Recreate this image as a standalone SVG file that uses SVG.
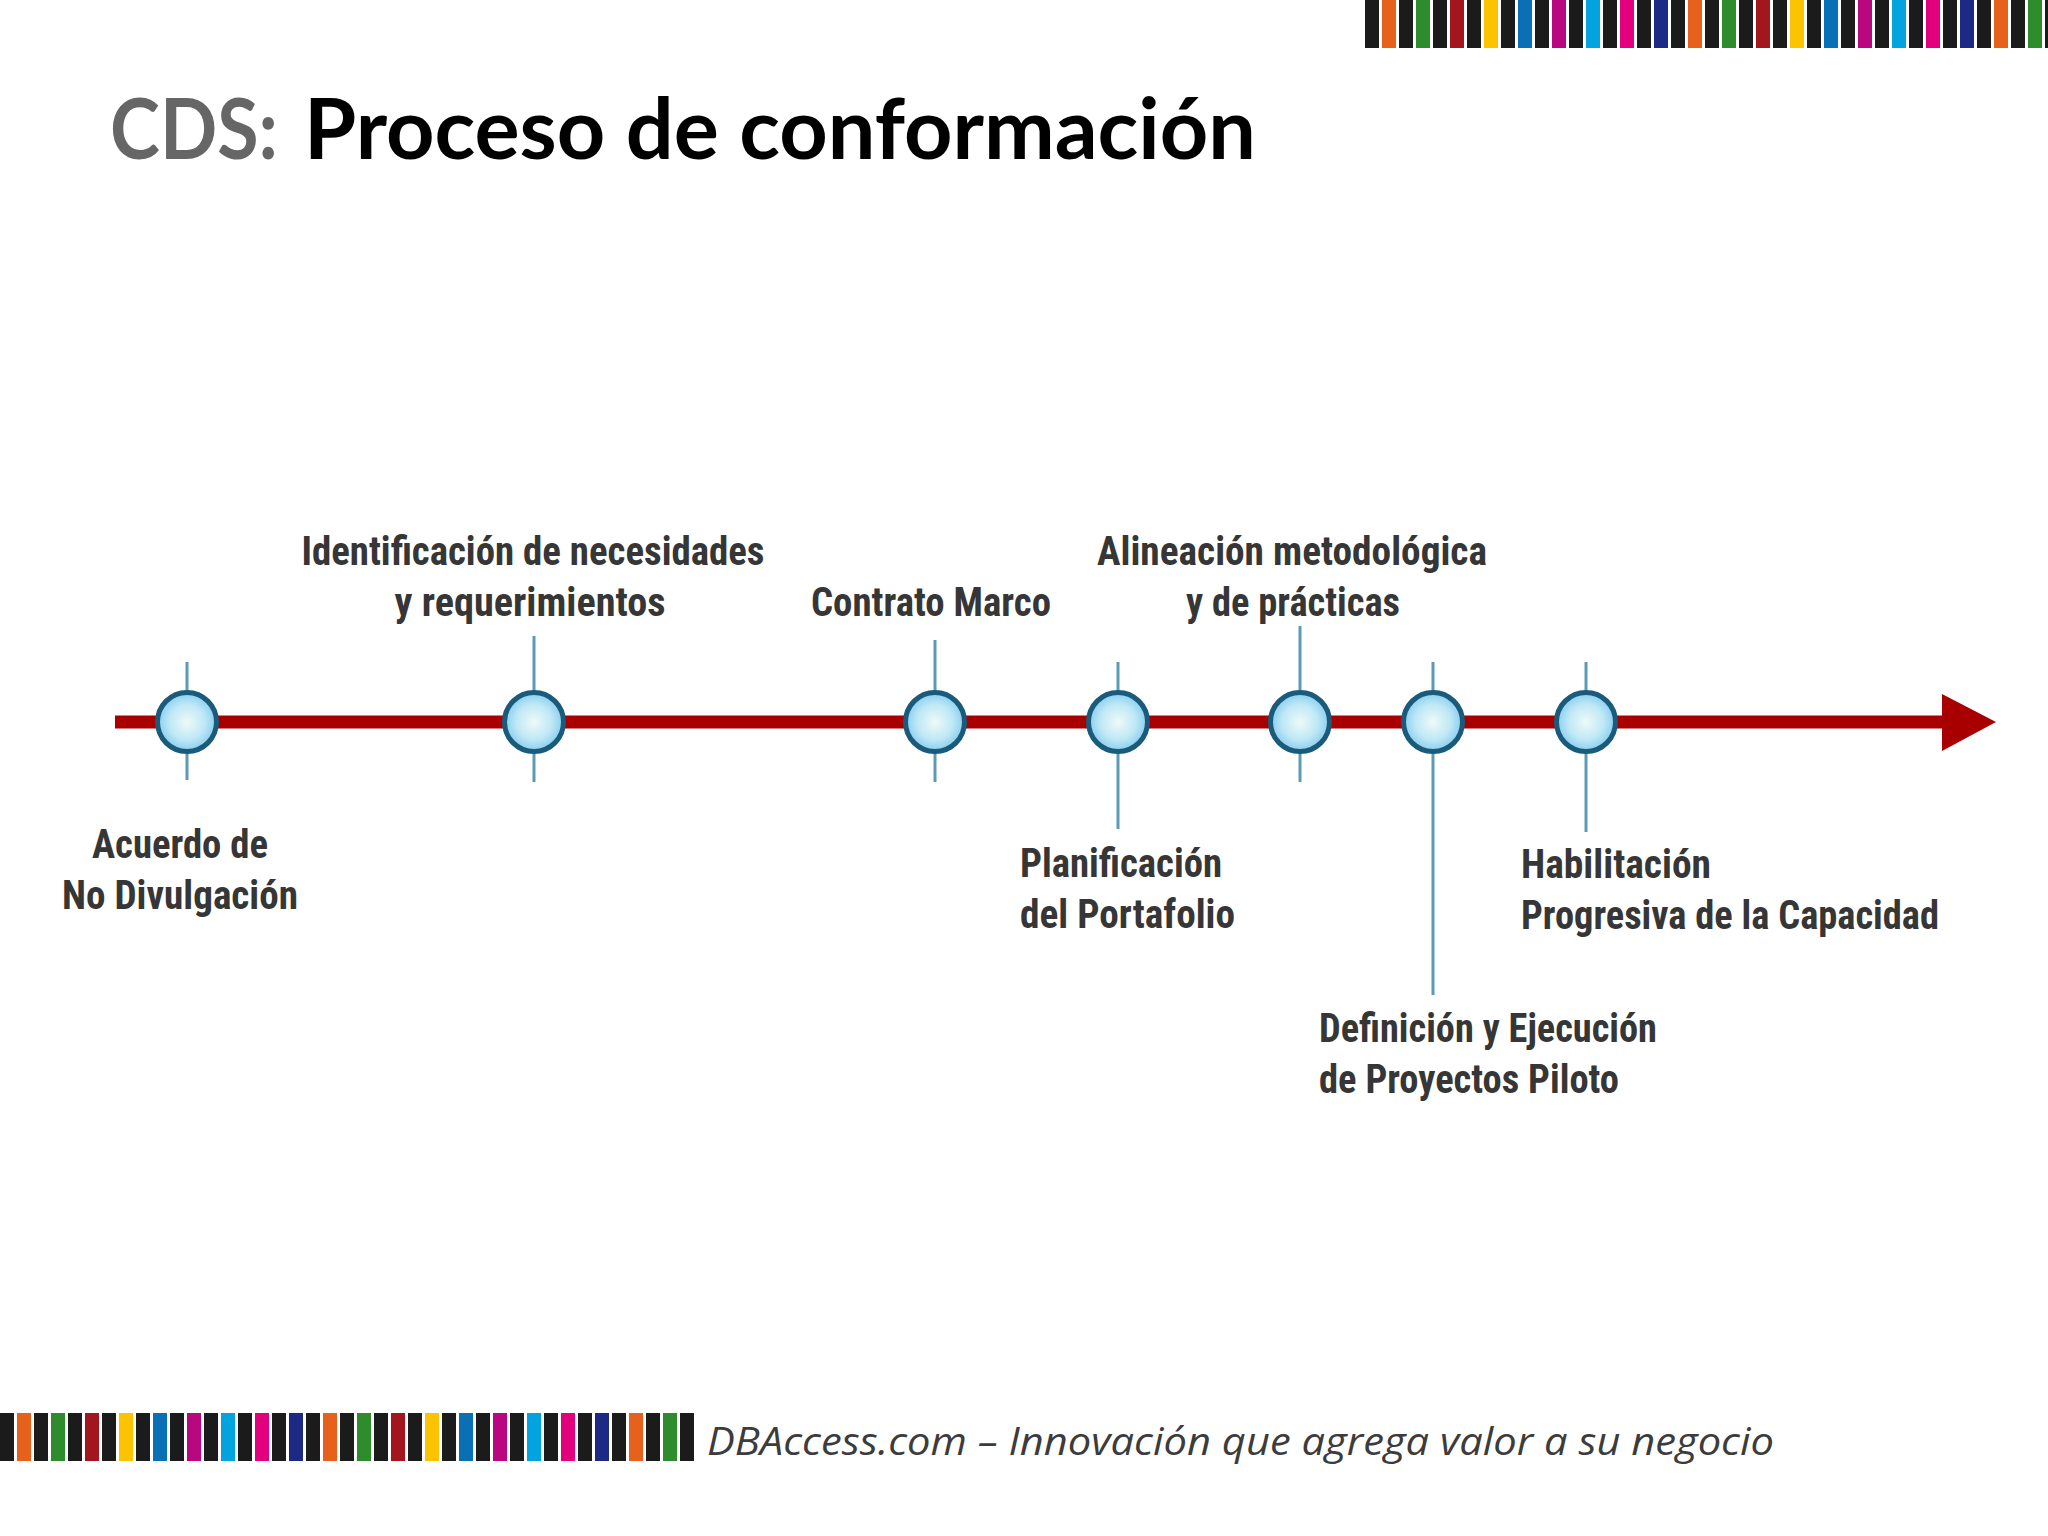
<svg xmlns="http://www.w3.org/2000/svg" width="2048" height="1536" viewBox="0 0 2048 1536">
<defs>
<radialGradient id="bub" cx="0.5" cy="0.5" r="0.5">
<stop offset="0" stop-color="#eefaf6"/>
<stop offset="0.6" stop-color="#bfe8f6"/>
<stop offset="1" stop-color="#86cdef"/>
</radialGradient>
<style>
.bg{fill:#ffffff}
.k{fill:#1b1b1b}.o{fill:#e6621c}.g{fill:#2f8c2c}.r{fill:#a3161e}.y{fill:#fcc300}.b{fill:#0a70b6}.m{fill:#b8077f}.c{fill:#03a3e0}.p{fill:#e3007c}.n{fill:#1c2a86}
.tick{stroke:#5c9bb5;stroke-width:3;fill:none}
.node{fill:url(#bub);stroke:#1a5b7c;stroke-width:5}
.lbl{font-family:"Liberation Sans Narrow","Roboto Condensed",Roboto,sans-serif;font-weight:700;font-size:41px;fill:#363636}
.title{font-family:Lato,"Open Sans",sans-serif;font-weight:700;font-size:84px}
.foot{font-family:"Open Sans",sans-serif;font-style:italic;font-size:38px;fill:#3c3c3c}
</style>
</defs>
<rect class="bg" x="0" y="0" width="2048" height="1536"/>
<g id="top-bar">
<rect class="k" x="1365" y="0" width="14" height="48"/><rect class="o" x="1382" y="0" width="14" height="48"/>
<rect class="k" x="1399" y="0" width="14" height="48"/><rect class="g" x="1416" y="0" width="14" height="48"/>
<rect class="k" x="1433" y="0" width="14" height="48"/><rect class="r" x="1450" y="0" width="14" height="48"/>
<rect class="k" x="1467" y="0" width="14" height="48"/><rect class="y" x="1484" y="0" width="14" height="48"/>
<rect class="k" x="1501" y="0" width="14" height="48"/><rect class="b" x="1518" y="0" width="14" height="48"/>
<rect class="k" x="1535" y="0" width="14" height="48"/><rect class="m" x="1552" y="0" width="14" height="48"/>
<rect class="k" x="1569" y="0" width="14" height="48"/><rect class="c" x="1586" y="0" width="14" height="48"/>
<rect class="k" x="1603" y="0" width="14" height="48"/><rect class="p" x="1620" y="0" width="14" height="48"/>
<rect class="k" x="1637" y="0" width="14" height="48"/><rect class="n" x="1654" y="0" width="14" height="48"/>
<rect class="k" x="1671" y="0" width="14" height="48"/><rect class="o" x="1688" y="0" width="14" height="48"/>
<rect class="k" x="1705" y="0" width="14" height="48"/><rect class="g" x="1722" y="0" width="14" height="48"/>
<rect class="k" x="1739" y="0" width="14" height="48"/><rect class="r" x="1756" y="0" width="14" height="48"/>
<rect class="k" x="1773" y="0" width="14" height="48"/><rect class="y" x="1790" y="0" width="14" height="48"/>
<rect class="k" x="1807" y="0" width="14" height="48"/><rect class="b" x="1824" y="0" width="14" height="48"/>
<rect class="k" x="1841" y="0" width="14" height="48"/><rect class="m" x="1858" y="0" width="14" height="48"/>
<rect class="k" x="1875" y="0" width="14" height="48"/><rect class="c" x="1892" y="0" width="14" height="48"/>
<rect class="k" x="1909" y="0" width="14" height="48"/><rect class="p" x="1926" y="0" width="14" height="48"/>
<rect class="k" x="1943" y="0" width="14" height="48"/><rect class="n" x="1960" y="0" width="14" height="48"/>
<rect class="k" x="1977" y="0" width="14" height="48"/><rect class="o" x="1994" y="0" width="14" height="48"/>
<rect class="k" x="2011" y="0" width="14" height="48"/><rect class="g" x="2028" y="0" width="14" height="48"/>
<rect class="k" x="2045" y="0" width="3" height="48"/>
</g>
<g id="title">
<text class="title" x="110" y="159" fill="#666666" textLength="168" lengthAdjust="spacingAndGlyphs">CDS:</text>
<text class="title" x="304" y="159" fill="#000000" textLength="952" lengthAdjust="spacingAndGlyphs">Proceso de conformación</text>
</g>
<g id="connectors">
<line x1="115" y1="722" x2="1944" y2="722" stroke="#a80000" stroke-width="13"/>
<polygon points="1942,694 1996,722 1942,751" fill="#a80000"/>
</g>
<g id="n1">
<line class="tick" x1="187" y1="662" x2="187" y2="780"/>
<circle class="node" cx="187" cy="722" r="29.5"/>
<text class="lbl" x="180" y="858" text-anchor="middle" textLength="176" lengthAdjust="spacingAndGlyphs">Acuerdo de</text>
<text class="lbl" x="180" y="909" text-anchor="middle" textLength="236" lengthAdjust="spacingAndGlyphs">No Divulgación</text>
</g>
<g id="n2">
<line class="tick" x1="534" y1="636" x2="534" y2="782"/>
<circle class="node" cx="534" cy="722" r="29.5"/>
<text class="lbl" x="533" y="565" text-anchor="middle" textLength="463" lengthAdjust="spacingAndGlyphs">Identificación de necesidades</text>
<text class="lbl" x="530" y="616" text-anchor="middle" textLength="271" lengthAdjust="spacingAndGlyphs">y requerimientos</text>
</g>
<g id="n3">
<line class="tick" x1="935" y1="640" x2="935" y2="782"/>
<circle class="node" cx="935" cy="722" r="29.5"/>
<text class="lbl" x="931" y="616" text-anchor="middle" textLength="240" lengthAdjust="spacingAndGlyphs">Contrato Marco</text>
</g>
<g id="n4">
<line class="tick" x1="1118" y1="662" x2="1118" y2="829"/>
<circle class="node" cx="1118" cy="722" r="29.5"/>
<text class="lbl" x="1020" y="877" textLength="202" lengthAdjust="spacingAndGlyphs">Planificación</text>
<text class="lbl" x="1020" y="928" textLength="215" lengthAdjust="spacingAndGlyphs">del Portafolio</text>
</g>
<g id="n5">
<line class="tick" x1="1300" y1="626" x2="1300" y2="782"/>
<circle class="node" cx="1300" cy="722" r="29.5"/>
<text class="lbl" x="1292" y="565" text-anchor="middle" textLength="390" lengthAdjust="spacingAndGlyphs">Alineación metodológica</text>
<text class="lbl" x="1293" y="616" text-anchor="middle" textLength="214" lengthAdjust="spacingAndGlyphs">y de prácticas</text>
</g>
<g id="n6">
<line class="tick" x1="1433" y1="662" x2="1433" y2="995"/>
<circle class="node" cx="1433" cy="722" r="29.5"/>
<text class="lbl" x="1319" y="1042" textLength="338" lengthAdjust="spacingAndGlyphs">Definición y Ejecución</text>
<text class="lbl" x="1319" y="1093" textLength="300" lengthAdjust="spacingAndGlyphs">de Proyectos Piloto</text>
</g>
<g id="n7">
<line class="tick" x1="1586" y1="662" x2="1586" y2="832"/>
<circle class="node" cx="1586" cy="722" r="29.5"/>
<text class="lbl" x="1521" y="878" textLength="190" lengthAdjust="spacingAndGlyphs">Habilitación</text>
<text class="lbl" x="1521" y="929" textLength="418" lengthAdjust="spacingAndGlyphs">Progresiva de la Capacidad</text>
</g>
<g id="bottom-bar">
<rect class="k" x="0" y="1413" width="14" height="48"/><rect class="o" x="17" y="1413" width="14" height="48"/>
<rect class="k" x="34" y="1413" width="14" height="48"/><rect class="g" x="51" y="1413" width="14" height="48"/>
<rect class="k" x="68" y="1413" width="14" height="48"/><rect class="r" x="85" y="1413" width="14" height="48"/>
<rect class="k" x="102" y="1413" width="14" height="48"/><rect class="y" x="119" y="1413" width="14" height="48"/>
<rect class="k" x="136" y="1413" width="14" height="48"/><rect class="b" x="153" y="1413" width="14" height="48"/>
<rect class="k" x="170" y="1413" width="14" height="48"/><rect class="m" x="187" y="1413" width="14" height="48"/>
<rect class="k" x="204" y="1413" width="14" height="48"/><rect class="c" x="221" y="1413" width="14" height="48"/>
<rect class="k" x="238" y="1413" width="14" height="48"/><rect class="p" x="255" y="1413" width="14" height="48"/>
<rect class="k" x="272" y="1413" width="14" height="48"/><rect class="n" x="289" y="1413" width="14" height="48"/>
<rect class="k" x="306" y="1413" width="14" height="48"/><rect class="o" x="323" y="1413" width="14" height="48"/>
<rect class="k" x="340" y="1413" width="14" height="48"/><rect class="g" x="357" y="1413" width="14" height="48"/>
<rect class="k" x="374" y="1413" width="14" height="48"/><rect class="r" x="391" y="1413" width="14" height="48"/>
<rect class="k" x="408" y="1413" width="14" height="48"/><rect class="y" x="425" y="1413" width="14" height="48"/>
<rect class="k" x="442" y="1413" width="14" height="48"/><rect class="b" x="459" y="1413" width="14" height="48"/>
<rect class="k" x="476" y="1413" width="14" height="48"/><rect class="m" x="493" y="1413" width="14" height="48"/>
<rect class="k" x="510" y="1413" width="14" height="48"/><rect class="c" x="527" y="1413" width="14" height="48"/>
<rect class="k" x="544" y="1413" width="14" height="48"/><rect class="p" x="561" y="1413" width="14" height="48"/>
<rect class="k" x="578" y="1413" width="14" height="48"/><rect class="n" x="595" y="1413" width="14" height="48"/>
<rect class="k" x="612" y="1413" width="14" height="48"/><rect class="o" x="629" y="1413" width="14" height="48"/>
<rect class="k" x="646" y="1413" width="14" height="48"/><rect class="g" x="663" y="1413" width="14" height="48"/>
<rect class="k" x="680" y="1413" width="14" height="48"/>
</g>
<g id="footer">
<text class="foot" x="707" y="1455" textLength="1067" lengthAdjust="spacingAndGlyphs">DBAccess.com – Innovación que agrega valor a su negocio</text>
</g>
</svg>
